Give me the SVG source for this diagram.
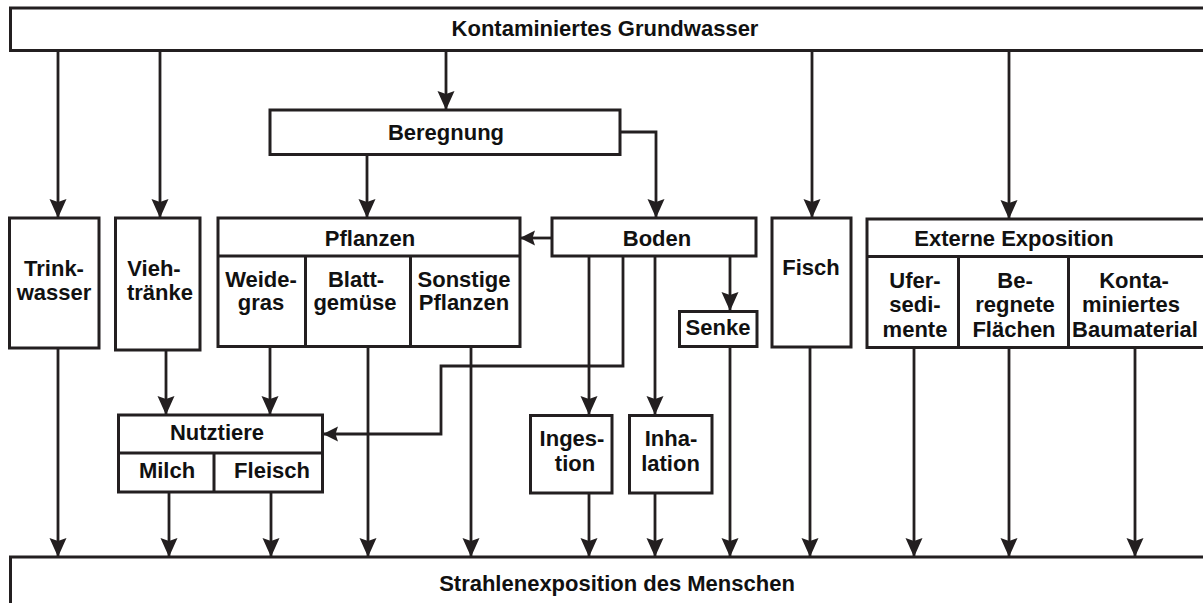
<svg xmlns="http://www.w3.org/2000/svg" width="1203" height="603" viewBox="0 0 1203 603">
<style>
.box{fill:#fff;stroke:#231f20;stroke-width:3}
.div{fill:none;stroke:#231f20;stroke-width:3}
.con{fill:none;stroke:#231f20;stroke-width:2.8}
text{font-family:"Liberation Sans",Arial,sans-serif;font-weight:bold;font-size:22px;fill:#111;text-anchor:middle}
</style>
<defs>
<marker id="arr" markerUnits="userSpaceOnUse" viewBox="-19 -9 19 18" refX="0" refY="0" markerWidth="19" markerHeight="18" orient="auto">
<path d="M0,0 L-19,-8.5 L-16,0 L-19,8.5 Z" fill="#231f20"/>
</marker>
<marker id="arrs" markerUnits="userSpaceOnUse" viewBox="-15 -8 15 16" refX="0" refY="0" markerWidth="15" markerHeight="16" orient="auto">
<path d="M0,0 L-15,-7.5 L-12.5,0 L-15,7.5 Z" fill="#231f20"/>
</marker>
</defs>
<rect width="1203" height="603" fill="#fff"/>

<g id="connectors">
<path class="con" marker-end="url(#arr)" d="M58,51 V218"/>
<path class="con" marker-end="url(#arr)" d="M160,51 V218"/>
<path class="con" marker-end="url(#arr)" d="M446,51 V110"/>
<path class="con" marker-end="url(#arr)" d="M812,51 V218"/>
<path class="con" marker-end="url(#arr)" d="M1009,51 V219"/>
<path class="con" marker-end="url(#arr)" d="M367,154 V218"/>
<path class="con" marker-end="url(#arr)" d="M620,132 H656 V218"/>
<path class="con" marker-end="url(#arrs)" d="M552,238 H520"/>
<path class="con" marker-end="url(#arr)" d="M730,256 V311"/>
<path class="con" marker-end="url(#arr)" d="M589,256 V415"/>
<path class="con" marker-end="url(#arr)" d="M655,256 V415"/>
<path class="con" marker-end="url(#arrs)" d="M623,256 V366 H441 V434 H323"/>
<path class="con" marker-end="url(#arr)" d="M166,350 V415"/>
<path class="con" marker-end="url(#arr)" d="M270,346 V415"/>
<path class="con" marker-end="url(#arr)" d="M58,348 V557"/>
<path class="con" marker-end="url(#arr)" d="M169,492 V557"/>
<path class="con" marker-end="url(#arr)" d="M271,492 V557"/>
<path class="con" marker-end="url(#arr)" d="M368,346 V557"/>
<path class="con" marker-end="url(#arr)" d="M471,346 V557"/>
<path class="con" marker-end="url(#arr)" d="M589,493 V557"/>
<path class="con" marker-end="url(#arr)" d="M655,493 V557"/>
<path class="con" marker-end="url(#arr)" d="M730,347 V557"/>
<path class="con" marker-end="url(#arr)" d="M810,347 V557"/>
<path class="con" marker-end="url(#arr)" d="M914,347 V557"/>
<path class="con" marker-end="url(#arr)" d="M1009,347 V557"/>
<path class="con" marker-end="url(#arr)" d="M1135,347 V557"/>
</g>

<g id="grundwasser">
<rect class="box" x="10.5" y="8" width="1200" height="42.5"/>
<text x="605" y="36">Kontaminiertes Grundwasser</text>
</g>

<g id="beregnung">
<rect class="box" x="270" y="110" width="350" height="44.5"/>
<text x="446" y="140">Beregnung</text>
</g>

<g id="trinkwasser">
<rect class="box" x="9.5" y="218" width="89.5" height="130"/>
<text x="54" y="276">Trink-</text>
<text x="54" y="300">wasser</text>
</g>

<g id="viehtraenke">
<rect class="box" x="115.5" y="218" width="84.5" height="132"/>
<text x="154" y="276">Vieh-</text>
<text x="160" y="300">tränke</text>
</g>

<g id="pflanzen">
<rect class="box" x="218" y="218" width="302" height="128.5"/>
<path class="div" d="M218,256 H520 M305.5,256 V346.5 M410.5,256 V346.5"/>
<text x="370" y="246">Pflanzen</text>
<text x="261" y="286.5">Weide-</text>
<text x="261" y="310">gras</text>
<text x="356" y="286.5">Blatt-</text>
<text x="355" y="310">gemüse</text>
<text x="464" y="286.5">Sonstige</text>
<text x="464" y="310">Pflanzen</text>
</g>

<g id="boden">
<rect class="box" x="552" y="218" width="204" height="38"/>
<text x="657" y="246">Boden</text>
</g>

<g id="senke">
<rect class="box" x="679.5" y="311.5" width="77.5" height="35"/>
<text x="718" y="335">Senke</text>
</g>

<g id="fisch">
<rect class="box" x="772" y="218" width="79" height="129"/>
<text x="811" y="275">Fisch</text>
</g>

<g id="externe">
<rect class="box" x="867" y="219" width="343" height="128.5"/>
<path class="div" d="M867,256.5 H1210 M958.5,256.5 V347.5 M1068.5,256.5 V347.5"/>
<text x="1014" y="246">Externe Exposition</text>
<text x="915" y="287.5">Ufer-</text>
<text x="915" y="312">sedi-</text>
<text x="915" y="336.5">mente</text>
<text x="1015" y="287.5">Be-</text>
<text x="1015" y="312">regnete</text>
<text x="1014" y="336.5">Flächen</text>
<text x="1134" y="287.5">Konta-</text>
<text x="1131" y="312">miniertes</text>
<text x="1135" y="336.5">Baumaterial</text>
</g>

<g id="nutztiere">
<rect class="box" x="118.5" y="415" width="204" height="77"/>
<path class="div" d="M118.5,453 H322.5 M214,453 V492"/>
<text x="217" y="440">Nutztiere</text>
<text x="167" y="478">Milch</text>
<text x="272" y="478">Fleisch</text>
</g>

<g id="ingestion">
<rect class="box" x="530.5" y="415.5" width="81.5" height="77.5"/>
<text x="572" y="446">Inges-</text>
<text x="575" y="471">tion</text>
</g>

<g id="inhalation">
<rect class="box" x="629.5" y="415.5" width="82.5" height="77.5"/>
<text x="671" y="446">Inha-</text>
<text x="670.5" y="471">lation</text>
</g>

<g id="mensch">
<rect class="box" x="10.5" y="557" width="1200" height="60"/>
<text x="617" y="591">Strahlenexposition des Menschen</text>
</g>
</svg>
